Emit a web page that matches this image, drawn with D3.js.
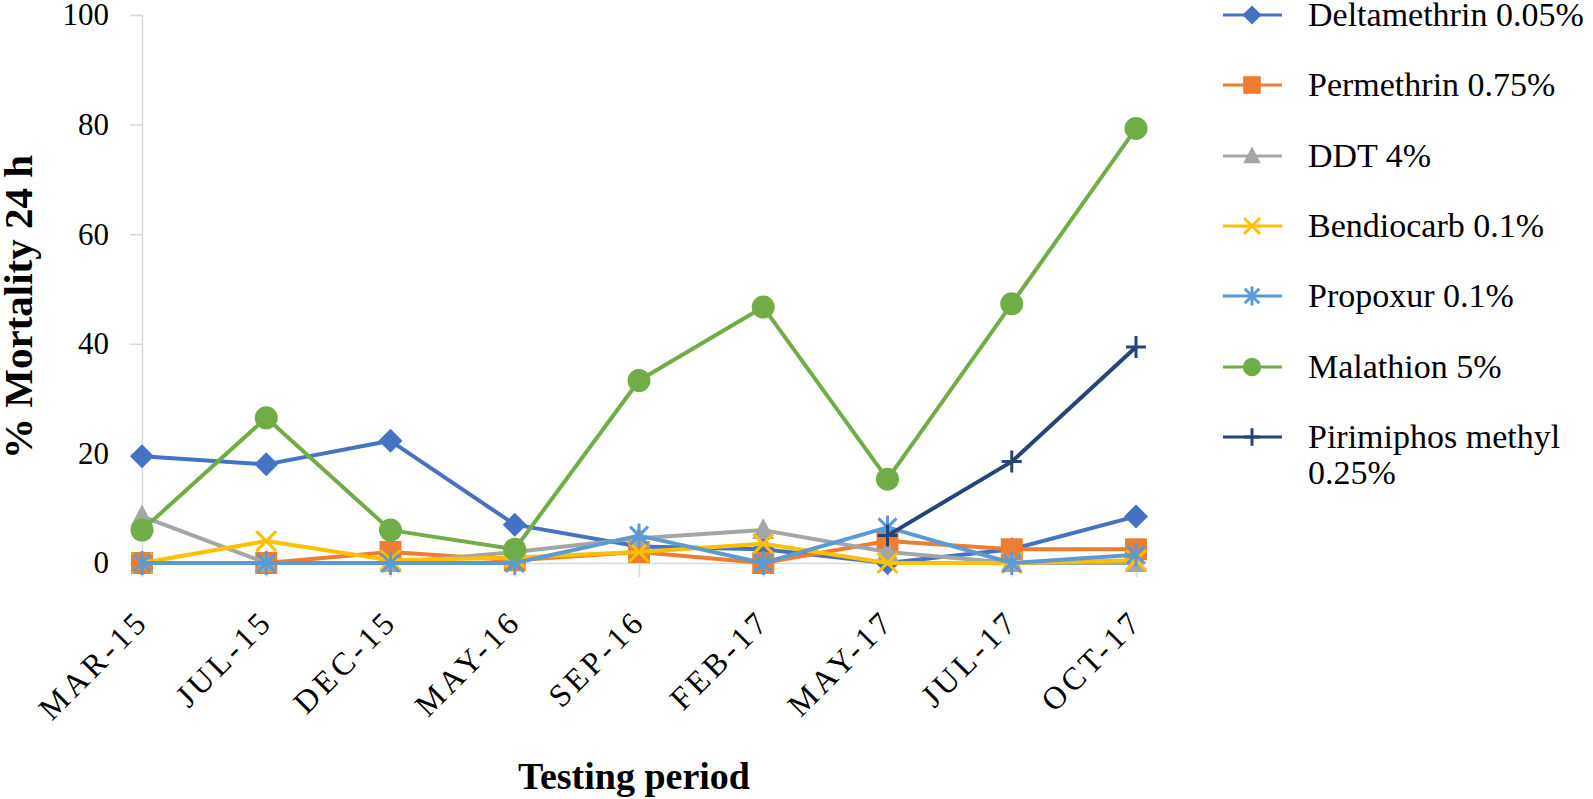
<!DOCTYPE html>
<html><head><meta charset="utf-8">
<script src="https://cdn.jsdelivr.net/npm/d3@7"></script>
<style>body{margin:0;background:#fff}svg{display:block}text{font-family:"Liberation Serif","Times New Roman",serif;fill:#000}</style>
</head><body><svg id="c" width="1593" height="799"></svg>
<script>
const categories = ["MAR-15","JUL-15","DEC-15","MAY-16","SEP-16","FEB-17","MAY-17","JUL-17","OCT-17"];
const seriesNames = ["Deltamethrin 0.05%","Permethrin 0.75%","DDT 4%","Bendiocarb 0.1%","Propoxur 0.1%","Malathion 5%","Pirimiphos methyl 0.25%"];
const deltamethrin = [19.5, 18, 22.3, 7, 3, 2.5, 0, 2.5, 8.5];
const permethrin   = [0, 0, 2, 0.5, 2, 0, 4, 2.5, 2.5];
const ddt          = [8.5, 0, 0, 2, 4.5, 6, 2, 0, 0];
const bendiocarb   = [0, 4, 0.5, 1, 2, 3.5, 0, 0, 0.5];
const propoxur     = [0, 0, 0, 0, 5, 0, 6.5, 0, 1.5];
const malathion    = [6, 26.5, 6, 2.5, 33.3, 46.7, 15.3, 47.3, 79.3];
const pirimiphos   = [null, null, null, null, null, null, 5, 18.5, 39.4];
const yTicks = [0, 20, 40, 60, 80, 100];

const seriesValues = [deltamethrin, permethrin, ddt, bendiocarb, propoxur, malathion, pirimiphos];
const colors = ["#4472C4","#ED7D31","#A5A5A5","#FFC000","#5B9BD5","#70AD47","#264478"];
const markers = ["diamond","square","triangle","x","star","circle","plus"];

const svg = d3.select("#c");
const x = d3.scalePoint().domain(categories).range([142, 1136]);
const y = d3.scaleLinear().domain([0, 100]).range([563, 15]);

// axes
const yAxis = svg.append("g").attr("transform","translate(142,0)")
  .call(d3.axisLeft(y).tickValues(yTicks).tickSize(12).tickPadding(21));
yAxis.select(".domain").attr("stroke","#d9d9d9").attr("stroke-width",1.5);
yAxis.selectAll(".tick line").attr("stroke","#d9d9d9").attr("stroke-width",1.5);
yAxis.selectAll(".tick text").attr("font-size",31).attr("font-family","Liberation Serif");

const xAxis = svg.append("g").attr("transform","translate(0,563)")
  .call(d3.axisBottom(x).tickSize(14).tickPadding(8));
xAxis.select(".domain").attr("stroke","#d9d9d9").attr("stroke-width",1.5);
xAxis.selectAll(".tick line").attr("stroke","#d9d9d9").attr("stroke-width",1.5);
xAxis.selectAll(".tick text").attr("font-size",32).attr("font-family","Liberation Serif")
  .attr("letter-spacing","4px")
  .attr("text-anchor","end").attr("y",0).attr("dy",0)
  .attr("transform","translate(8,60) rotate(-45)");

// axis titles
svg.append("text").attr("x",634).attr("y",789).attr("text-anchor","middle")
  .attr("font-size",38).attr("font-weight","bold").text("Testing period");
svg.append("text").attr("transform","translate(32,307) rotate(-90)").attr("text-anchor","middle")
  .attr("font-size",41).attr("font-weight","bold").text("% Mortality 24 h");

function drawMarker(g, type, color, cx, cy, s) {
  s = s || 1;
  if (type === "diamond") g.append("path").attr("d",`M${cx},${cy-12*s}L${cx+12*s},${cy}L${cx},${cy+12*s}L${cx-12*s},${cy}Z`).attr("fill",color);
  else if (type === "square") g.append("rect").attr("x",cx-11*s).attr("y",cy-11*s).attr("width",22*s).attr("height",22*s).attr("fill",color);
  else if (type === "triangle") g.append("path").attr("d", `M${cx},${cy-12*s}L${cx+11*s},${cy+9*s}L${cx-11*s},${cy+9*s}Z`).attr("fill",color);
  else if (type === "circle") g.append("circle").attr("cx",cx).attr("cy",cy).attr("r",11.5*s).attr("fill",color);
  else if (type === "x") g.append("path").attr("d",`M${cx-10*s},${cy-10*s}L${cx+10*s},${cy+10*s}M${cx+10*s},${cy-10*s}L${cx-10*s},${cy+10*s}`).attr("stroke",color).attr("stroke-width",3);
  else if (type === "star") g.append("path").attr("d",`M${cx-9*s},${cy-9*s}L${cx+9*s},${cy+9*s}M${cx+9*s},${cy-9*s}L${cx-9*s},${cy+9*s}M${cx},${cy-12*s}L${cx},${cy+12*s}`).attr("stroke",color).attr("stroke-width",3);
  else if (type === "plus") g.append("path").attr("d",`M${cx-10*s},${cy}L${cx+10*s},${cy}M${cx},${cy-11*s}L${cx},${cy+11*s}`).attr("stroke",color).attr("stroke-width",3);
}

const line = d3.line().defined(d => d.v !== null).x(d => x(d.c)).y(d => y(d.v));
seriesValues.forEach((vals, i) => {
  const g = svg.append("g");
  const pts = categories.map((c, j) => ({c, v: vals[j]}));
  g.append("path").datum(pts).attr("d", line).attr("fill","none")
    .attr("stroke", colors[i]).attr("stroke-width", 4).attr("stroke-linejoin","round");
  pts.filter(p => p.v !== null).forEach(p => drawMarker(g, markers[i], colors[i], x(p.c), y(p.v)));
});

// legend
const lg = svg.append("g");
const legendY = [15, 85, 156, 226, 296, 367, 437];
seriesNames.forEach((name, i) => {
  const ly = legendY[i];
  lg.append("line").attr("x1",1223).attr("x2",1282).attr("y1",ly).attr("y2",ly)
    .attr("stroke",colors[i]).attr("stroke-width",3);
  drawMarker(lg, markers[i], colors[i], 1252, ly, 0.8);
  if (i === 6) {
    lg.append("text").attr("x",1308).attr("y",ly).attr("dy","0.32em").attr("font-size",34).text("Pirimiphos methyl");
    lg.append("text").attr("x",1308).attr("y",ly+36).attr("dy","0.32em").attr("font-size",34).text("0.25%");
  } else {
    lg.append("text").attr("x",1308).attr("y",ly).attr("dy","0.32em").attr("font-size",34).text(name);
  }
});
</script></body></html>
